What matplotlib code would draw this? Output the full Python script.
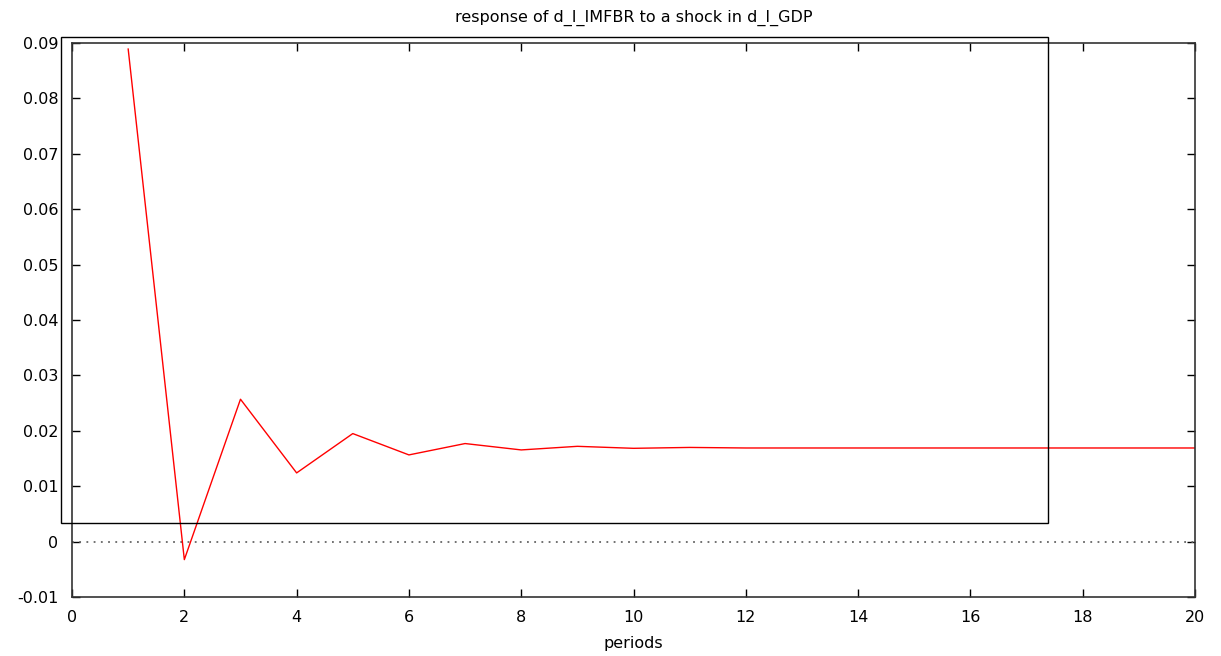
import numpy as np
import matplotlib
matplotlib.use("Agg")
import matplotlib.pyplot as plt
from matplotlib.patches import Rectangle

# impulse response
periods = [1, 2, 3, 4, 5, 6, 7, 8, 9, 10, 11, 12, 13, 14, 15, 16, 17, 18, 19, 20]
response = [0.0889, -0.00325, 0.0257, 0.0124, 0.0195, 0.01565, 0.0177, 0.01655,
            0.0172, 0.01684, 0.0170, 0.0169, 0.0169, 0.0169, 0.0169, 0.0169,
            0.0169, 0.0169, 0.0169, 0.0169]
xticks = [0, 2, 4, 6, 8, 10, 12, 14, 16, 18, 20]
yticks = [-0.01, 0, 0.01, 0.02, 0.03, 0.04, 0.05, 0.06, 0.07, 0.08, 0.09]
ytick_labels = ["-0.01", "0", "0.01", "0.02", "0.03", "0.04", "0.05", "0.06",
                "0.07", "0.08", "0.09"]

plt.rcParams["font.family"] = "DejaVu Sans"
fig = plt.figure(figsize=(12.21, 6.56), dpi=100)
ax = fig.add_axes([0.059, 0.0899, 0.9197, 0.8446])

ax.axhline(0, color="#666666", linestyle=(0, (1, 3)), linewidth=1.3)
ax.plot(periods, response, color="red", linewidth=1.0)

ax.set_xlim(0, 20)
ax.set_ylim(-0.01, 0.09)
ax.set_xticks(xticks)
ax.set_yticks(yticks)
ax.set_yticklabels(ytick_labels)
ax.tick_params(direction="in", top=True, right=True, length=6, width=1,
               labelsize=11.5, colors="black")
ax.tick_params(axis="y", pad=10)
ax.tick_params(axis="x", pad=9)
for s in ax.spines.values():
    s.set_linewidth(1.2)
    s.set_color("#333333")

ax.set_title("response of d_l_IMFBR to a shock in d_l_GDP", fontsize=11.5, pad=15)
ax.set_xlabel("periods", fontsize=11.5, labelpad=8)

# stray box drawn over the plot in the original
fig.patches.append(Rectangle((61 / 1221, 1 - 523 / 656), (1048 - 61) / 1221,
                             (523 - 37) / 656, transform=fig.transFigure,
                             fill=False, edgecolor="black", linewidth=1.0))

fig.savefig("out.png", dpi=100)
